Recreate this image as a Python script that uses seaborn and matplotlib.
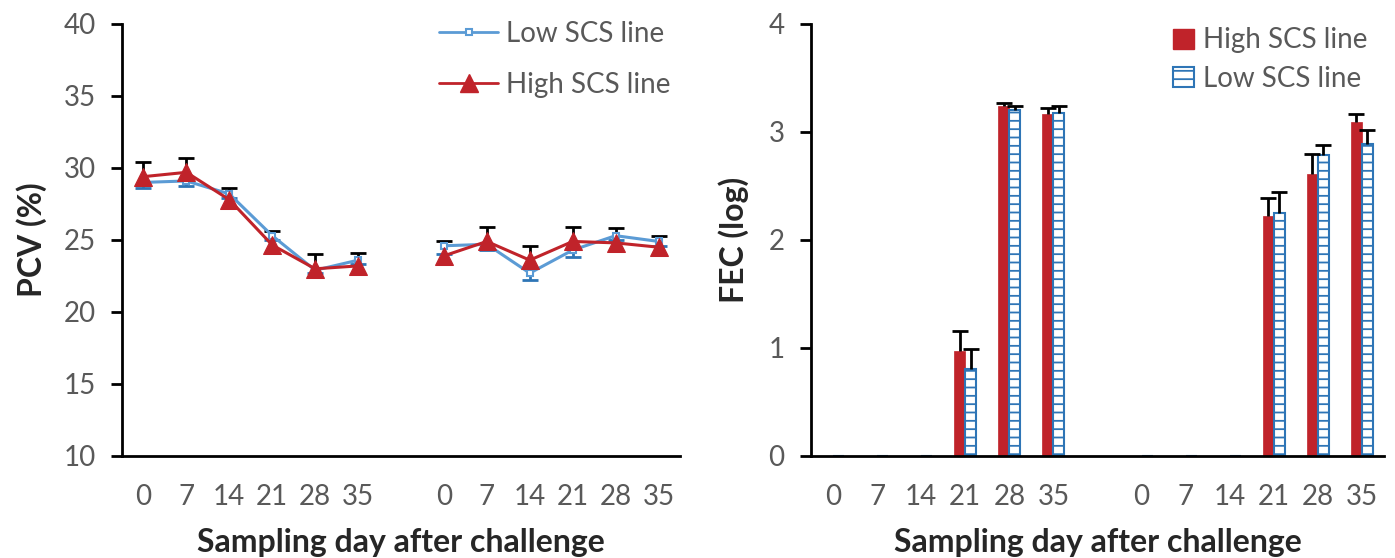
import numpy as np
import pandas as pd
import matplotlib
matplotlib.use("Agg")
import matplotlib.pyplot as plt
import seaborn as sns
from matplotlib.lines import Line2D
from matplotlib.patches import Patch

# sampling days, repeated for the two blocks of the experiment
days = ["0", "7", "14", "21", "28", "35"]

# PCV (%) values
pcv_low = [29.0, 29.1, 28.2, 25.3, 22.9, 23.6, 24.6, 24.7, 22.7, 24.3, 25.3, 24.9]
pcv_low_err = [0.4, 0.35, 0.3, 0.3, 0.2, 0.3, 0.55, 0.4, 0.5, 0.45, 0.3, 0.3]
pcv_high = [29.4, 29.7, 27.8, 24.65, 23.0, 23.2, 23.9, 24.9, 23.6, 24.9, 24.8, 24.5]
pcv_high_err = [1.0, 1.0, 0.8, 0.95, 1.05, 0.9, 1.0, 1.0, 1.0, 1.0, 1.0, 0.8]

# FEC (log) values
fec_high = [0, 0, 0, 0.97, 3.24, 3.17, 0, 0, 0, 2.22, 2.61, 3.09]
fec_high_err = [0, 0, 0, 0.19, 0.03, 0.05, 0, 0, 0, 0.17, 0.19, 0.08]
fec_low = [0, 0, 0, 0.81, 3.20, 3.18, 0, 0, 0, 2.25, 2.79, 2.89]
fec_low_err = [0, 0, 0, 0.18, 0.04, 0.06, 0, 0, 0, 0.19, 0.09, 0.13]

RED = "#C0232A"
BLUE_LINE = "#5B9BD5"
BLUE_DARK = "#2E75B6"
GREY = "#595959"

sns.set_style("white")
plt.rcParams["font.family"] = ["Lato", "DejaVu Sans"]
plt.rcParams["hatch.linewidth"] = 1.3

# categorical slots: 6 days, an empty slot, then 6 days
cats = ["A" + d for d in days] + ["gap"] + ["B" + d for d in days]
pos = list(range(6)) + list(range(7, 13))
tick_labels = days + [""] + days
block_col = ["A"] * 6 + ["B"] * 6
cat_col = [c for c in cats if c != "gap"]


def one_sided_err(ax, x, y, err, color, up=True, z=1.5):
    # whisker with a cap only at the far end, like the original
    x = np.asarray(x, float)
    y = np.asarray(y, float)
    err = np.asarray(err, float)
    end = y + err if up else y - err
    ax.vlines(x, y, end, color=color, lw=2, zorder=z)
    ax.plot(x, end, ls="none", marker="_", markersize=12, mew=2, color=color, zorder=z)


fig = plt.figure(figsize=(13.95, 5.58), dpi=100)
ax1 = fig.add_axes([122 / 1395, 102 / 558, 558 / 1395, 432 / 558])
ax2 = fig.add_axes([811 / 1395, 102 / 558, 573 / 1395, 432 / 558])

# ---------- left panel: PCV lines ----------
df_low = pd.DataFrame({"pos": pos, "pcv": pcv_low, "err": pcv_low_err, "block": block_col})
df_high = pd.DataFrame({"pos": pos, "pcv": pcv_high, "err": pcv_high_err, "block": block_col})

one_sided_err(ax1, df_low["pos"], df_low["pcv"], df_low["err"], BLUE_DARK, up=False)
one_sided_err(ax1, df_high["pos"], df_high["pcv"], df_high["err"], "black", up=True)

sns.lineplot(data=df_low, x="pos", y="pcv", units="block", estimator=None, ax=ax1,
             color=BLUE_LINE, lw=2.2, marker="s", markersize=5, markerfacecolor="white",
             markeredgecolor=BLUE_LINE, markeredgewidth=1.5, zorder=3)
sns.lineplot(data=df_high, x="pos", y="pcv", units="block", estimator=None, ax=ax1,
             color=RED, lw=2.2, marker="^", markersize=13, markeredgecolor=RED, zorder=4)

ax1.set_ylim(10, 40)
ax1.set_yticks(range(10, 41, 5))

h1 = [Line2D([], [], color=BLUE_LINE, lw=2, marker="s", markersize=5, markerfacecolor="white",
             markeredgecolor=BLUE_LINE, markeredgewidth=1.5),
      Line2D([], [], color=RED, lw=2, marker="^", markersize=13)]
leg1 = ax1.legend(h1, ["Low SCS line", "High SCS line"], loc="upper right",
                  bbox_to_anchor=(1.028, 1.065), frameon=False, fontsize=20,
                  labelspacing=0.9, handlelength=2.1, handletextpad=0.3)
for t in leg1.get_texts():
    t.set_color(GREY)
ax1.set_ylabel("PCV (%)", fontsize=23, fontweight="bold", labelpad=12)

# ---------- right panel: FEC bars ----------
df_fec = pd.DataFrame({
    "cat": cat_col * 2,
    "fec": fec_high + fec_low,
    "err": fec_high_err + fec_low_err,
    "line": ["High SCS line"] * 12 + ["Low SCS line"] * 12,
})
sns.barplot(data=df_fec, x="cat", y="fec", hue="line", order=cats,
            hue_order=["High SCS line", "Low SCS line"], saturation=1,
            palette=[RED, "white"], width=0.5, errorbar=None, ax=ax2, legend=False)

for bar in ax2.containers[1]:
    bar.set_edgecolor(BLUE_DARK)
    bar.set_linewidth(1.5)
    bar.set_hatch("--")
for bar in ax2.containers[0]:
    bar.set_edgecolor(RED)
    bar.set_linewidth(0.5)

for cont, errs in zip(ax2.containers, [fec_high_err, fec_low_err]):
    for bar in cont:
        xc = bar.get_x() + bar.get_width() / 2
        i = pos.index(int(round(xc)))
        if errs[i] > 0:
            one_sided_err(ax2, [xc], [bar.get_height()], [errs[i]], "black", up=True, z=3)

ax2.set_ylim(0, 4)
ax2.set_yticks(range(0, 5))
h2 = [Patch(facecolor=RED, edgecolor=RED),
      Patch(facecolor="white", edgecolor=BLUE_DARK, hatch="--", linewidth=1.5)]
leg2 = ax2.legend(h2, ["High SCS line", "Low SCS line"], loc="upper right",
                  bbox_to_anchor=(1.014, 1.05), frameon=False, fontsize=20,
                  labelspacing=0.45, handlelength=0.75, handleheight=0.75, handletextpad=0.3)
for t in leg2.get_texts():
    t.set_color(GREY)
ax2.set_ylabel("FEC (log)", fontsize=23, fontweight="bold", labelpad=14)

# ---------- shared axis styling ----------
for ax in (ax1, ax2):
    ax.set_xlim(-0.5, 12.5)
    ax.set_xticks(range(13))
    ax.set_xticklabels(tick_labels)
    ax.set_xticks(np.arange(-0.5, 13, 1), minor=True)
    ax.tick_params(axis="x", which="major", length=0, pad=20, labelsize=20, labelcolor=GREY)
    ax.tick_params(axis="x", which="minor", length=8, width=2, color="black", direction="out")
    ax.tick_params(axis="y", length=8, width=2, color="black", direction="out", pad=11,
                   labelsize=20, labelcolor=GREY, left=True)
    for s in ["top", "right"]:
        ax.spines[s].set_visible(False)
    for s in ["left", "bottom"]:
        ax.spines[s].set_color("black")
        ax.spines[s].set_linewidth(2)
    ax.set_xlabel("Sampling day after challenge", fontsize=23, fontweight="bold", labelpad=13)

fig.savefig("out.png", dpi=100)
